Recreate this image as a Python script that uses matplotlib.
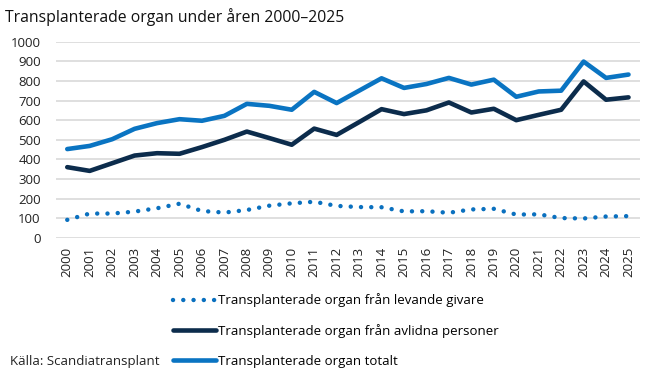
import matplotlib.pyplot as plt

# Transplanterade organ 2000-2025 (Scandiatransplant)
YEARS = list(range(2000, 2026))
LEVANDE = [93, 125, 125, 135, 152, 175, 138, 130, 143, 165, 177, 185,
           164, 158, 157, 136, 137, 129, 146, 149, 120, 121, 102, 100, 110, 112]
AVLIDNA = [361, 342, 381, 420, 432, 429, 463, 500, 542, 509, 475, 557,
           525, 590, 656, 631, 650, 690, 639, 658, 600, 627, 653, 797, 704, 716]
TOTALT = [453, 469, 503, 556, 585, 605, 597, 622, 683, 673, 653, 744,
          687, 750, 813, 764, 784, 815, 781, 806, 719, 746, 750, 898, 815, 832]

LABELS = ['Transplanterade organ från levande givare',
          'Transplanterade organ från avlidna personer',
          'Transplanterade organ totalt']

plt.rcParams['font.family'] = ['Open Sans', 'DejaVu Sans']

fig = plt.figure(figsize=(6.5, 3.81), dpi=100)
ax = fig.add_axes([0.0862, 0.375, 0.898, 0.516])

ax.plot(YEARS, LEVANDE, color='#0a70bf', linewidth=3.2, linestyle=(0, (0.01, 2.3)),
        dash_capstyle='round', label=LABELS[0])
ax.plot(YEARS, AVLIDNA, color='#0c2c4c', linewidth=3.3, solid_capstyle='round',
        solid_joinstyle='round', label=LABELS[1])
ax.plot(YEARS, TOTALT, color='#0a74c2', linewidth=3.3, solid_capstyle='round',
        solid_joinstyle='round', label=LABELS[2])

ax.set_ylim(0, 1000)
ax.set_xlim(1999.5, 2025.5)
ax.set_yticks(range(0, 1001, 100))
ax.set_xticks(YEARS)
ax.set_xticklabels([str(y) for y in YEARS], rotation=90)
ax.tick_params(axis='both', length=0, labelsize=9.5, colors='#222222')
ax.tick_params(axis='y', pad=11)
ax.tick_params(axis='x', pad=6)
ax.grid(axis='y', color='#d9d9d9', linewidth=1.2)
ax.set_axisbelow(True)
for s in ax.spines.values():
    s.set_visible(False)

fig.text(0.008, 0.955, 'Transplanterade organ under åren 2000–2025', fontsize=11.3,
         color='#111111', va='center', ha='left')
fig.text(0.015, 0.05, 'Källa: Scandiatransplant', fontsize=9.5, color='#222222',
         va='center', ha='left')

fig.legend(loc='upper left', bbox_to_anchor=(0.266, 0.23), bbox_transform=fig.transFigure,
           frameon=False, fontsize=9.5, handlelength=3.3, handletextpad=0.1,
           labelspacing=1.27, borderaxespad=0, borderpad=0)

fig.savefig('out.png', dpi=100)
